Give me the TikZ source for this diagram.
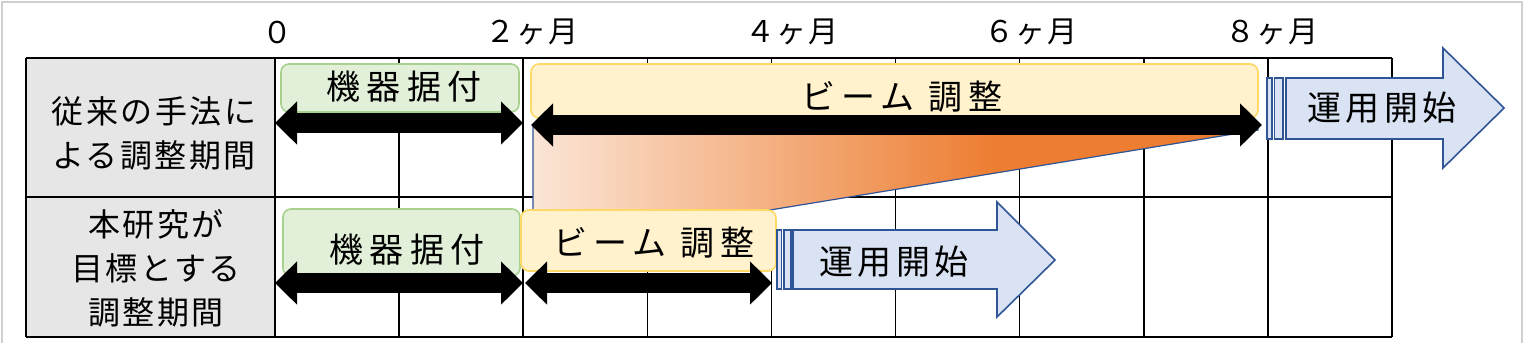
\documentclass[tikz,border=0pt]{standalone}
\usepackage{fontspec}
\newfontfamily\jpfont{Noto Sans CJK JP}
\usetikzlibrary{arrows.meta,positioning}
\definecolor{cellgrey}{HTML}{E7E6E6}
\definecolor{framegrey}{HTML}{D0D0D0}
\definecolor{boxgreen}{HTML}{E2F0D9}
\definecolor{boxgreenline}{HTML}{A9D18E}
\definecolor{boxyellow}{HTML}{FFF2CC}
\definecolor{boxyellowline}{HTML}{FFD966}
\definecolor{opsblue}{HTML}{DAE3F3}
\definecolor{opsblueline}{HTML}{2F5597}
\definecolor{fadelight}{HTML}{FBE5D6}
\definecolor{fadeorange}{HTML}{ED7D31}
\pgfdeclarehorizontalshading{beamfade}{100bp}{color(0bp)=(fadelight); color(25bp)=(fadelight); color(57bp)=(fadeorange); color(100bp)=(fadeorange)}
\tikzset{
  axislabel/.style={font=\jpfont\fontsize{15pt}{17pt}\selectfont\addfontfeatures{LetterSpace=6}},
  rowlabel/.style={align=center,font=\jpfont\fontsize{16pt}{22pt}\selectfont\addfontfeatures{LetterSpace=8}},
  boxlabel/.style={font=\jpfont\fontsize{17pt}{19pt}\selectfont\addfontfeatures{LetterSpace=18}},
  opslabel/.style={font=\jpfont\fontsize{17pt}{19pt}\selectfont\addfontfeatures{LetterSpace=13}},
  greenbox/.style={draw=boxgreenline,fill=boxgreen,line width=0.8pt,rounded corners=4pt},
  yellowbox/.style={draw=boxyellowline,fill=boxyellow,line width=0.8pt,rounded corners=4pt},
  opsshape/.style={draw=opsblueline,fill=opsblue,line width=0.8pt},
  spanarrow/.style={line width=10pt,{Triangle[width=21pt,length=11pt]}-{Triangle[width=21pt,length=11pt]}},
  gridline/.style={line width=0.8pt}
}
\begin{document}
\begin{tikzpicture}[x=0.5pt,y=-0.5pt]
  \useasboundingbox (0,0) rectangle (1524,360);
  % frame of the screenshot
  \draw[framegrey,line width=1pt] (1.5,343) -- (1.5,1.5) -- (1521.5,1.5) -- (1521.5,343);

  % table
  \fill[cellgrey] (26,58) rectangle (275,337);
  \foreach \y in {58,197,337} \draw[gridline] (26,\y) -- (1392,\y);
  \draw[gridline] (26,58) -- (26,337);
  \foreach \i in {0,...,9} \draw[gridline] (275+124.1*\i,58) -- (275+124.1*\i,337);

  % month axis
  \node[axislabel] (ax0) at (277,32) {０};
  \node[axislabel] (ax2) at (532,32) {２ヶ月};
  \node[axislabel] (ax4) at (792,32) {４ヶ月};
  \node[axislabel] (ax6) at (1031,32) {６ヶ月};
  \node[axislabel] (ax8) at (1272,32) {８ヶ月};

  \node[rowlabel] (row1) at (154,133) {従来の手法に\\よる調整期間};
  \node[rowlabel] (row2) at (156,268) {本研究が\\目標とする\\調整期間};

  % conventional schedule
  \shade[shading=beamfade,draw=opsblueline,line width=0.6pt]
    (533,125) -- (1258,125) -- (1258,130) -- (770,210) -- (533,210) -- cycle;
  \draw[greenbox] (281,64) rectangle (519,112);
  \node[boxlabel] (inst1) at (404,87) {機器据付};
  \draw[yellowbox] (531,64) rectangle (1258,118);
  \node[boxlabel] (beam1) at (902,97) {ビーム 調整};
  \coordinate (i1a) at (275,123); \coordinate (i1b) at (523,123);
  \coordinate (b1a) at (531,125); \coordinate (b1b) at (1262,125);
  \draw[spanarrow] (i1a) -- (i1b);
  \draw[spanarrow] (b1a) -- (b1b);
  \draw[opsshape] (1267,78) rectangle (1272,139);
  \draw[opsshape] (1274.5,78) rectangle (1283,139);
  \draw[opsshape] (1286,78) -- (1443,78) -- (1443,48) -- (1504,108) -- (1443,168) -- (1443,139) -- (1286,139) -- cycle;
  \node[opslabel] (ops1) at (1382,108) {運用開始};

  % target schedule
  \draw[greenbox] (283,209) rectangle (520,276);
  \node[boxlabel] (inst2) at (407,250) {機器据付};
  \draw[yellowbox] (521,210) rectangle (776,271);
  \node[boxlabel] (beam2) at (654,243) {ビーム 調整};
  \coordinate (i2a) at (275,283); \coordinate (i2b) at (523,283);
  \coordinate (b2a) at (525,283); \coordinate (b2b) at (772,283);
  \draw[spanarrow] (i2a) -- (i2b);
  \draw[spanarrow] (b2a) -- (b2b);
  \draw[opsshape] (777,230) rectangle (781.5,289);
  \draw[opsshape] (784,230) rectangle (791,289);
  \draw[opsshape] (793,230) -- (997,230) -- (997,202) -- (1055,260) -- (997,317) -- (997,289) -- (793,289) -- cycle;
  \node[opslabel] (ops2) at (894,262) {運用開始};
\end{tikzpicture}
\end{document}
